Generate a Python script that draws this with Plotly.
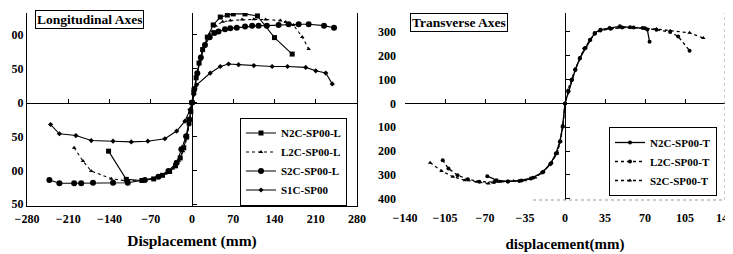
import plotly.graph_objects as go

# ---------------- data ----------------
# Longitudinal axes (left panel)
n2c_l_x = [-141.6, -111.5, -85, -65, -50, -38, -28, -20, -14, -9, -5, -2, 0, 3, 7, 12, 18, 26, 36, 48, 60, 70, 90, 111, 140, 170]
n2c_l_y = [-215, -340, -345, -338, -322, -305, -280, -245, -200, -150, -90, -40, 0, 45, 110, 175, 235, 290, 344, 379, 388, 393, 393, 384, 288, 215]

l2c_l_x = [-200, -185, -171, -137, -111, -85, -62, -45, -32, -22, -15, -9, -5, -2, 0, 3, 8, 14, 21, 30, 40, 52, 65, 85, 105, 125, 150, 159, 172, 187, 198]
l2c_l_y = [-200, -259, -303, -337, -347, -345, -335, -315, -292, -258, -215, -160, -100, -45, 0, 50, 120, 190, 250, 305, 340, 358, 364, 368, 369, 368, 364, 357, 344, 291, 238]

s2c_l_x = [-242, -225, -200, -188, -168, -134, -109, -80, -57, -40, -26, -18, -10, -4.5, 0, 4, 9, 15, 22, 30, 38, 45, 56, 65, 76, 90, 102, 113, 127, 147, 164, 181, 198, 224, 241]
s2c_l_y = [-343, -357, -357, -357, -355, -355, -355, -343, -328, -303, -266, -207, -149, -75, 0, 60, 130, 200, 255, 290, 308, 315, 325, 329, 332, 337, 341, 341, 341, 344, 347, 347, 347, 341, 332]

s1c_x = [-240, -225, -197, -171, -134, -103, -75, -46, -26, -12, -3.4, 0, 3, 8, 31, 48, 62, 79, 105, 136, 162, 193, 210, 227, 238]
s1c_y = [-97, -138, -146, -168, -171, -174, -171, -160, -126, -82, -31, 0, 35, 79, 131, 160, 171, 168, 164, 160, 160, 156, 141, 131, 83]

# Transverse axes (right panel)
n2c_t_x = [-68, -60, -50, -40, -30, -20, -13, -8, -4.5, -2, 0, 3, 6, 9, 13, 18, 22, 26, 31, 39, 48, 57, 68, 72, 74]
n2c_t_y = [-305, -322, -327, -325, -315, -290, -255, -210, -160, -95, 0, 50, 100, 140, 190, 232, 267, 295, 309, 316, 323, 319, 316, 310, 258]

l2c_t_x = [-107, -102, -94, -85, -75, -62, -50, -38, -28, -19, -12, -7, -4, -2, 0, 3, 6, 9, 13, 17, 22, 26, 31, 40, 50, 60, 70, 80, 92, 99, 109]
l2c_t_y = [-238, -273, -301, -318, -328, -330, -327, -323, -312, -288, -250, -208, -160, -98, 0, 52, 98, 142, 188, 230, 266, 292, 306, 313, 318, 318, 315, 309, 299, 281, 221]

s2c_t_x = [-118, -108, -98, -87.5, -77, -67, -57, -45, -35, -26, -19, -12, -7, -4.4, -2, 0, 2.5, 5.5, 9, 13, 17, 22, 26, 31, 40, 48, 57, 68, 80, 92, 109, 121]
s2c_t_y = [-249, -283, -308, -322, -329, -336, -329, -325, -322, -311, -286, -249, -210, -161, -98, 0, 55, 100, 145, 190, 232, 268, 293, 308, 314, 318, 318, 316, 312, 305, 296, 274]

# axes / ticks
left_x_ticks = [-280, -210, -140, -70, 0, 70, 140, 210, 280]
left_y_ticks = [300, 150, 0, -150, -300, -450]
left_y_ticktext = ["00", "50", "0", "50", "00", "50"]
right_x_ticks = [-140, -105, -70, -35, 0, 35, 70, 105, 140]
right_y_ticks = [300, 200, 100, 0, -100, -200, -300, -400]
right_y_ticktext = ["300", "200", "100", "0", "100", "200", "300", "400"]

left_x_range = [-280, 280]
left_y_range = [-458, 397]
right_x_range = [-140, 140]
right_y_range = [-405, 379]

# ---------------- layout geometry ----------------
# page is offset by the browser's default 8px body margin
OFF = 8
W, H = 733 - OFF, 254 - OFF
REF_L, REF_T, REF_R, REF_B = 27, 13, 725, 206     # plot-area edges in the reference image
ML, MT = REF_L - OFF, REF_T - OFF
MR = (733 - REF_R)
MB = 254 - REF_B
PW = REF_R - REF_L
PH = REF_B - REF_T
left_xdom = [0.0, (357 - REF_L) / PW]
right_xdom = [(405 - REF_L) / PW, 1.0]
left_ydom = [0.0, 1.0]
right_ydom = [(REF_B - 200) / PH, 1.0]


def frac(v, rng, dom):
    return dom[0] + (v - rng[0]) / (rng[1] - rng[0]) * (dom[1] - dom[0])


FONT = "Liberation Serif, Times New Roman, serif"
BLACK = "black"

fig = go.Figure()

line_w = 1.1

fig.add_trace(go.Scatter(x=n2c_l_x, y=n2c_l_y, name="N2C-SP00-L", mode="lines+markers",
                         line=dict(color=BLACK, width=line_w),
                         marker=dict(symbol="square", size=5, color=BLACK),
                         xaxis="x", yaxis="y", legend="legend"))
fig.add_trace(go.Scatter(x=l2c_l_x, y=l2c_l_y, name="L2C-SP00-L", mode="lines+markers",
                         line=dict(color=BLACK, width=line_w, dash="dot"),
                         marker=dict(symbol="triangle-up", size=4, color=BLACK),
                         xaxis="x", yaxis="y", legend="legend"))
fig.add_trace(go.Scatter(x=s2c_l_x, y=s2c_l_y, name="S2C-SP00-L", mode="lines+markers",
                         line=dict(color=BLACK, width=line_w),
                         marker=dict(symbol="circle", size=6, color=BLACK),
                         xaxis="x", yaxis="y", legend="legend"))
fig.add_trace(go.Scatter(x=s1c_x, y=s1c_y, name="S1C-SP00", mode="lines+markers",
                         line=dict(color=BLACK, width=line_w),
                         marker=dict(symbol="diamond", size=4, color=BLACK),
                         xaxis="x", yaxis="y", legend="legend"))

fig.add_trace(go.Scatter(x=n2c_t_x, y=n2c_t_y, name="N2C-SP00-T", mode="lines+markers",
                         line=dict(color=BLACK, width=1.3),
                         marker=dict(symbol="circle", size=4, color=BLACK),
                         xaxis="x2", yaxis="y2", legend="legend2"))
fig.add_trace(go.Scatter(x=l2c_t_x, y=l2c_t_y, name="L2C-SP00-T", mode="lines+markers",
                         line=dict(color=BLACK, width=1.3, dash="dot"),
                         marker=dict(symbol="circle", size=4, color=BLACK),
                         xaxis="x2", yaxis="y2", legend="legend2"))
fig.add_trace(go.Scatter(x=s2c_t_x, y=s2c_t_y, name="S2C-SP00-T", mode="lines+markers",
                         line=dict(color=BLACK, width=1.3, dash="dot"),
                         marker=dict(symbol="triangle-up", size=4, color=BLACK),
                         xaxis="x2", yaxis="y2", legend="legend2"))

# empty traces to activate the zero-crossing axes
fig.add_trace(go.Scatter(x=[], y=[], xaxis="x3", yaxis="y3", showlegend=False, hoverinfo="skip"))
fig.add_trace(go.Scatter(x=[], y=[], xaxis="x4", yaxis="y4", showlegend=False, hoverinfo="skip"))

tickfont = dict(family=FONT, size=12, color=BLACK, weight="bold")

fig.update_layout(
    width=W, height=H,
    margin=dict(l=ML, r=MR, t=MT, b=MB),
    paper_bgcolor="white", plot_bgcolor="white",
    font=dict(family=FONT, size=12, color=BLACK, weight="bold"),
    xaxis=dict(domain=left_xdom, anchor="y", range=left_x_range, tickvals=left_x_ticks,
               showgrid=False, zeroline=False, showline=True, linecolor=BLACK, linewidth=1,
               ticks="", tickfont=tickfont, ticklabelstandoff=2, automargin=False,
               title=dict(text="Displacement (mm)",
                          font=dict(family=FONT, size=15.5, color=BLACK, weight="bold"), standoff=9)),
    yaxis=dict(domain=left_ydom, anchor="x", range=left_y_range, tickvals=left_y_ticks,
               ticktext=left_y_ticktext, showgrid=False, zeroline=False, showline=True,
               linecolor=BLACK, linewidth=1, mirror=True, ticks="", tickfont=tickfont,
               automargin=False),
    xaxis2=dict(domain=right_xdom, anchor="y2", range=right_x_range, tickvals=right_x_ticks,
                showgrid=False, zeroline=False, showline=False, ticks="", tickfont=tickfont,
                ticklabelstandoff=9, automargin=False, ticklabeloverflow="allow",
                title=dict(text="displacement(mm)",
                           font=dict(family=FONT, size=15, color=BLACK, weight="bold"), standoff=14)),
    yaxis2=dict(domain=right_ydom, anchor="x2", range=right_y_range, tickvals=right_y_ticks,
                ticktext=right_y_ticktext, showgrid=False, zeroline=False, showline=False,
                ticks="", tickfont=tickfont, ticklabelstandoff=8, automargin=False),
    # zero-crossing axes with tick marks (left panel)
    xaxis3=dict(domain=left_xdom, overlaying="x", anchor="free",
                position=frac(0, left_y_range, left_ydom), range=left_x_range,
                tickvals=left_x_ticks, showticklabels=False, ticks="inside", ticklen=4,
                tickcolor=BLACK, showline=True, linecolor=BLACK, linewidth=1,
                showgrid=False, zeroline=False),
    yaxis3=dict(domain=left_ydom, overlaying="y", anchor="free",
                position=frac(0, left_x_range, left_xdom), range=left_y_range,
                tickvals=left_y_ticks, showticklabels=False, ticks="inside", ticklen=4,
                tickcolor=BLACK, showline=True, linecolor=BLACK, linewidth=1,
                showgrid=False, zeroline=False),
    # zero-crossing axes with tick marks (right panel)
    xaxis4=dict(domain=right_xdom, overlaying="x2", anchor="free",
                position=frac(0, right_y_range, right_ydom), range=right_x_range,
                tickvals=right_x_ticks, showticklabels=False, ticks="inside", ticklen=4,
                tickcolor=BLACK, showline=True, linecolor=BLACK, linewidth=1,
                showgrid=False, zeroline=False),
    yaxis4=dict(domain=right_ydom, overlaying="y2", anchor="free",
                position=frac(0, right_x_range, right_xdom), range=right_y_range,
                tickvals=right_y_ticks, showticklabels=False, ticks="inside", ticklen=4,
                tickcolor=BLACK, showline=True, linecolor=BLACK, linewidth=1,
                showgrid=False, zeroline=False),
    legend=dict(x=(347 - REF_L) / PW, y=(REF_B - 161.5) / PH, xanchor="right", yanchor="middle",
                bordercolor=BLACK, borderwidth=1, bgcolor="white",
                font=dict(family=FONT, size=11, color=BLACK, weight="bold"),
                itemwidth=30, tracegroupgap=0),
    legend2=dict(x=(717 - REF_L) / PW, y=(REF_B - 161.5) / PH, xanchor="right", yanchor="middle",
                 bordercolor=BLACK, borderwidth=1, bgcolor="white",
                 font=dict(family=FONT, size=11, color=BLACK, weight="bold"),
                 itemwidth=30, tracegroupgap=0),
    showlegend=True,
)

# panel labels
fig.add_annotation(text="Longitudinal Axes", xref="x domain", yref="y domain",
                   x=(35 - 27) / 330, y=1.016, xanchor="left", yanchor="top", showarrow=False,
                   font=dict(family=FONT, size=13.5, color=BLACK, weight="bold"),
                   bordercolor=BLACK, borderwidth=1, borderpad=1, bgcolor="white")
fig.add_annotation(text="Transverse Axes", xref="x2 domain", yref="y2 domain",
                   x=(410 - 405) / 320, y=1.0, xanchor="left", yanchor="top", showarrow=False,
                   font=dict(family=FONT, size=13.5, color=BLACK, weight="bold"),
                   bordercolor=BLACK, borderwidth=1, borderpad=1, bgcolor="white")

# faint dotted frame of right panel
fig.add_shape(type="line", xref="x2 domain", yref="y2 domain", x0=1, x1=1, y0=0, y1=1,
              line=dict(color="#999999", width=1, dash="dot"))
fig.add_shape(type="line", xref="x2 domain", yref="y2 domain", x0=0.4, x1=1, y0=0, y1=0,
              line=dict(color="#999999", width=1, dash="dot"))

fig.write_html("out.html")
